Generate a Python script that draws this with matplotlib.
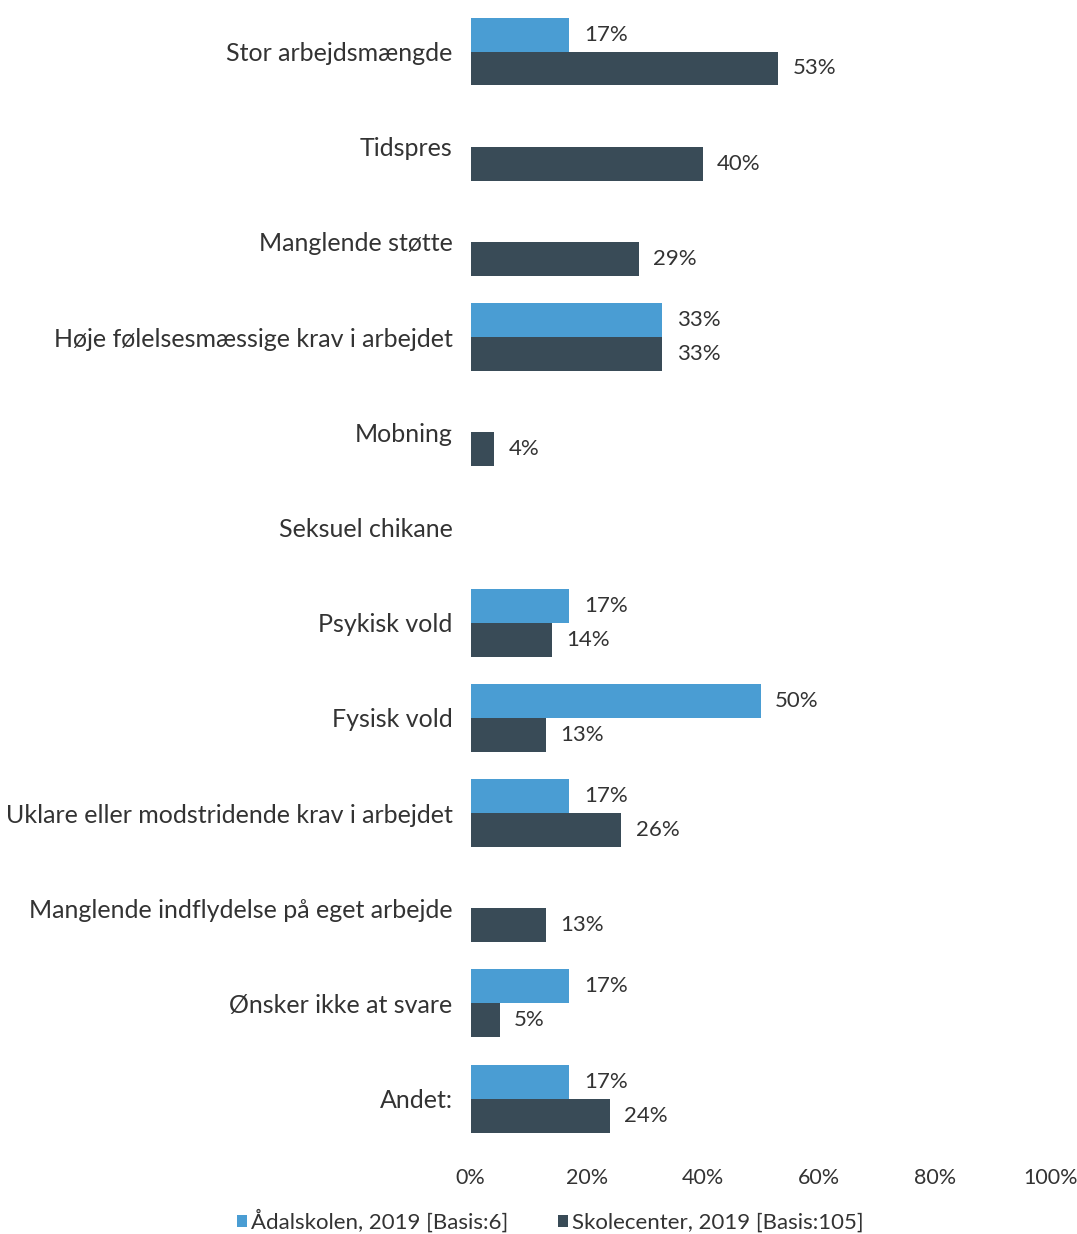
import numpy as np
import matplotlib.pyplot as plt

categories = ['Stor arbejdsmængde', 'Tidspres', 'Manglende støtte',
              'Høje følelsesmæssige krav i arbejdet', 'Mobning',
              'Seksuel chikane', 'Psykisk vold', 'Fysisk vold',
              'Uklare eller modstridende krav i arbejdet',
              'Manglende indflydelse på eget arbejde',
              'Ønsker ikke at svare', 'Andet:']
adalskolen = [17, 0, 0, 33, 0, 0, 17, 50, 17, 0, 17, 17]
skolecenter = [53, 40, 29, 33, 4, 0, 14, 13, 26, 13, 5, 24]
series_names = ['Ådalskolen, 2019 [Basis:6]', 'Skolecenter, 2019 [Basis:105]']
xticks = [0, 20, 40, 60, 80, 100]

light = '#4a9dd3'
dark = '#394b57'
txt = '#333333'

plt.rcParams['font.family'] = ['Lato', 'DejaVu Sans']

fig = plt.figure(figsize=(10.77, 12.34), dpi=100)
ax = fig.add_axes([0.437, 0.068, 0.5385, 0.932])

y = np.arange(len(categories))
h = 0.357
b1 = ax.barh(y - h / 2, adalskolen, height=h, color=light, label=series_names[0])
b2 = ax.barh(y + h / 2, skolecenter, height=h, color=dark, label=series_names[1])

for bars, vals in ((b1, adalskolen), (b2, skolecenter)):
    for bar, v in zip(bars, vals):
        if v > 0:
            ax.text(v + 2.5, bar.get_y() + bar.get_height() / 2, f'{v}%',
                    va='center', ha='left', fontsize=16, color=txt)

ax.set_ylim(11.54, -0.541)
ax.set_xlim(0, 100)
ax.set_yticks(y)
ax.set_yticklabels(categories, fontsize=18, color=txt)
ax.set_xticks(xticks)
ax.set_xticklabels([f'{t}%' for t in xticks], fontsize=15.5, color=txt)
ax.tick_params(axis='y', length=0, pad=13)
ax.tick_params(axis='x', length=0, pad=13)
for s in ax.spines.values():
    s.set_visible(False)

leg = fig.legend(handles=[b1, b2], labels=series_names, loc='center',
                 bbox_to_anchor=(0.511, 0.0105), ncol=2, frameon=False,
                 fontsize=16, handlelength=0.45, handleheight=0.45,
                 handletextpad=0.2, columnspacing=2.2)
for t in leg.get_texts():
    t.set_color(txt)

fig.savefig('out.png', dpi=100)
